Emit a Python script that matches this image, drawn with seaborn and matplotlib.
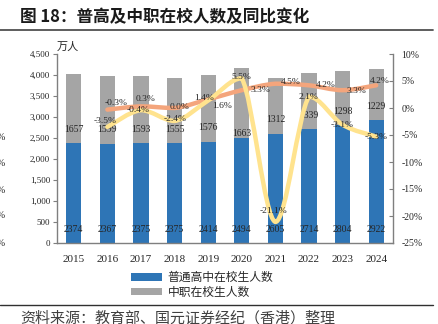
import numpy as np
import pandas as pd
import matplotlib
matplotlib.use("Agg")
import matplotlib.pyplot as plt
import seaborn as sns
from matplotlib.path import Path
from matplotlib.patches import PathPatch, Patch
from matplotlib.lines import Line2D
from matplotlib.ticker import FuncFormatter, MultipleLocator, FixedLocator

# ---- data -------------------------------------------------------------
years = ['2015', '2016', '2017', '2018', '2019', '2020', '2021', '2022', '2023', '2024']
high_school = [2374, 2367, 2375, 2375, 2414, 2494, 2605, 2714, 2804, 2922]      # 万人
vocational = [1657, 1599, 1593, 1555, 1576, 1663, 1312, 1339, 1298, 1229]       # 万人
high_school_yoy = [np.nan, -0.3, 0.3, 0.0, 1.6, 3.3, 4.5, 4.2, 3.3, 4.2]        # %
vocational_yoy = [np.nan, -3.5, -0.4, -2.4, 1.4, 5.5, -21.1, 2.1, -3.1, -5.3]   # %

series_names = ['普通高中在校生人数', '中职在校生人数']
title = '图 18：普高及中职在校人数及同比变化'
source = '资料来源：教育部、国元证券经纪（香港）整理'

# ---- label placement (pixel offsets from each point: dx right, dy down) --
hs_label_off = [None, (9, -7), (5, -7), (5, -1), (14, 7), (19, 0), (15, -2), (17, 0), (14, 1), (4, -4)]
vc_label_off = [None, (-2, -6), (-3, 0), (1, -2), (-4, -2), (0, -1), (-2, -11), (0, 0), (0, 0), (0, 0)]
voc_bar_label_off = [14, 14, 14, 14, 14, 5, 14, 14, 14, 14]

BLUE = '#2E75B6'
GRAY = '#A5A5A5'
ORANGE = '#F4A57C'
YELLOW = '#FFE38E'
TXT = '#262626'
SPINE = '#7F7F7F'

sns.set_style('white')
plt.rcParams['font.family'] = ['Liberation Serif', 'Noto Sans CJK SC', 'DejaVu Sans']
CJK = ['Noto Sans CJK SC', 'DejaVu Sans']
NUM = ['Liberation Serif', 'DejaVu Serif']

W, H = 439, 324
fig = plt.figure(figsize=(W / 100, H / 100), dpi=100)
px = 0.72  # pixels -> points at 100 dpi

def fx(x):
    return x / W

def fy(y):
    return 1 - y / H

ax = fig.add_axes([fx(57), fy(243), fx(393) - fx(57), fy(54) - fy(243)])

df = pd.DataFrame({'year': years, 'high': high_school, 'voc': vocational})
df['total'] = df['high'] + df['voc']

# stacked columns: total in gray, high-school part in blue on top of it
sns.barplot(data=df, x='year', y='total', color=GRAY, saturation=1, width=0.45,
            edgecolor='none', ax=ax)
sns.barplot(data=df, x='year', y='high', color=BLUE, saturation=1, width=0.45,
            edgecolor='none', ax=ax)

ax.set_xlim(-0.5, len(years) - 0.5)
ax.set_ylim(0, 4500)
ax.yaxis.set_major_locator(MultipleLocator(500))
ax.yaxis.set_major_formatter(FuncFormatter(lambda v, _: f'{int(v):,}'))
ax.set_xlabel('')
ax.set_ylabel('')
ax.xaxis.set_minor_locator(FixedLocator(np.arange(0.5, len(years) - 1, 1.0)))
ax.tick_params(axis='x', which='major', length=0, pad=9, labelsize=8, colors=TXT)
ax.tick_params(axis='x', which='minor', direction='in', length=3, width=0.8, color=SPINE)
ax.tick_params(axis='y', direction='out', length=3, width=0.8, color=SPINE,
               labelsize=6.5, pad=2, labelcolor=TXT)
for lab in ax.get_xticklabels() + ax.get_yticklabels():
    lab.set_family(NUM)
for side in ['left', 'bottom']:
    ax.spines[side].set_color(SPINE)
    ax.spines[side].set_linewidth(1.0)
ax.spines['top'].set_visible(False)
ax.spines['right'].set_visible(False)

# bar value labels, just above the base of each segment
for i, (h, v) in enumerate(zip(high_school, vocational)):
    ax.annotate(str(h), xy=(i, 0), xytext=(0, 14 * px), textcoords='offset points',
                ha='center', va='center', fontsize=7, color=TXT, family=NUM)
    ax.annotate(str(v), xy=(i, h), xytext=(0, voc_bar_label_off[i] * px),
                textcoords='offset points', ha='center', va='center',
                fontsize=7, color=TXT, family=NUM)

# secondary axis for the growth rates
ax2 = ax.twinx()
ax2.set_ylim(-25, 10)
ax2.yaxis.set_major_locator(MultipleLocator(5))
ax2.yaxis.set_major_formatter(FuncFormatter(lambda v, _: f'{int(round(v))}%'))
ax2.tick_params(axis='y', direction='in', length=3, width=0.8, color=SPINE,
                labelsize=7, pad=6, labelcolor=TXT)
for lab in ax2.get_yticklabels():
    lab.set_family(NUM)
for side in ['left', 'top', 'bottom']:
    ax2.spines[side].set_visible(False)
ax2.spines['right'].set_color(SPINE)
ax2.spines['right'].set_linewidth(1.0)


def smooth_path(xs, ys):
    """Cubic Bezier path through the points; control handles are kept
    within each segment's vertical range so peaks do not overshoot."""
    pts = np.column_stack([xs, ys]).astype(float)
    n = len(pts)
    verts = [pts[0]]
    codes = [Path.MOVETO]
    for k in range(n - 1):
        p0 = pts[k - 1] if k > 0 else pts[k]
        p1 = pts[k]
        p2 = pts[k + 1]
        p3 = pts[k + 2] if k + 2 < n else pts[k + 1]
        c1 = p1 + (p2 - p0) / 6.0
        c2 = p2 - (p3 - p1) / 6.0
        lo, hi = min(p1[1], p2[1]), max(p1[1], p2[1])
        c1[1] = np.clip(c1[1], lo, hi)
        c2[1] = np.clip(c2[1], lo, hi)
        verts += [c1, c2, p2]
        codes += [Path.CURVE4] * 3
    return Path(verts, codes)


for values, color in [(high_school_yoy, ORANGE), (vocational_yoy, YELLOW)]:
    idx = [i for i, v in enumerate(values) if not np.isnan(v)]
    path = smooth_path(idx, [values[i] for i in idx])
    ax2.add_patch(PathPatch(path, facecolor='none', edgecolor=color, lw=3.2,
                            capstyle='round', joinstyle='round', zorder=3))

for values, offs in [(high_school_yoy, hs_label_off), (vocational_yoy, vc_label_off)]:
    for i, v in enumerate(values):
        if np.isnan(v):
            continue
        dx, dy = offs[i]
        ax2.annotate(f'{v:.1f}%', xy=(i, v), xytext=(dx * px, -dy * px),
                     textcoords='offset points', ha='center', va='center',
                     fontsize=6.8, color=TXT, family=NUM, zorder=5)

# unit label
fig.text(fx(57), fy(47), '万人', fontsize=8, ha='left', va='center', color=TXT, family=CJK)

# legend for the stacked columns
handles = [Patch(facecolor=BLUE, edgecolor='none'), Patch(facecolor=GRAY, edgecolor='none')]
fig.legend(handles, series_names, loc='upper left', bbox_to_anchor=(fx(131), fy(271)),
           frameon=False, prop={'family': CJK, 'size': 8.5}, handlelength=2.6,
           handleheight=0.6, handletextpad=0.5, labelspacing=0.15, borderpad=0,
           borderaxespad=0)

# title, rules and source note
fig.text(fx(20), fy(17), title, fontsize=12, fontweight='bold', ha='left', va='center',
         color='#1a1a1a', family=CJK)
fig.add_artist(Line2D([0, fx(433)], [fy(30), fy(30)], color='#505050', lw=1.3))
fig.add_artist(Line2D([0, fx(433)], [fy(305), fy(305)], color='#303030', lw=1.0))
fig.text(fx(20), fy(318), source, fontsize=10.8, ha='left', va='center',
         color='#404040', family=CJK)

# right-hand tick labels of the neighbouring panel, cut off at the left edge
for v, yy in zip(['-5%', '-10%', '-15%', '-20%', '-25%'], [138, 163, 190, 216, 243]):
    fig.text(fx(6), fy(yy), v, fontsize=7, ha='right', va='center', color=TXT, family=NUM)

fig.savefig('out.png', dpi=100)
